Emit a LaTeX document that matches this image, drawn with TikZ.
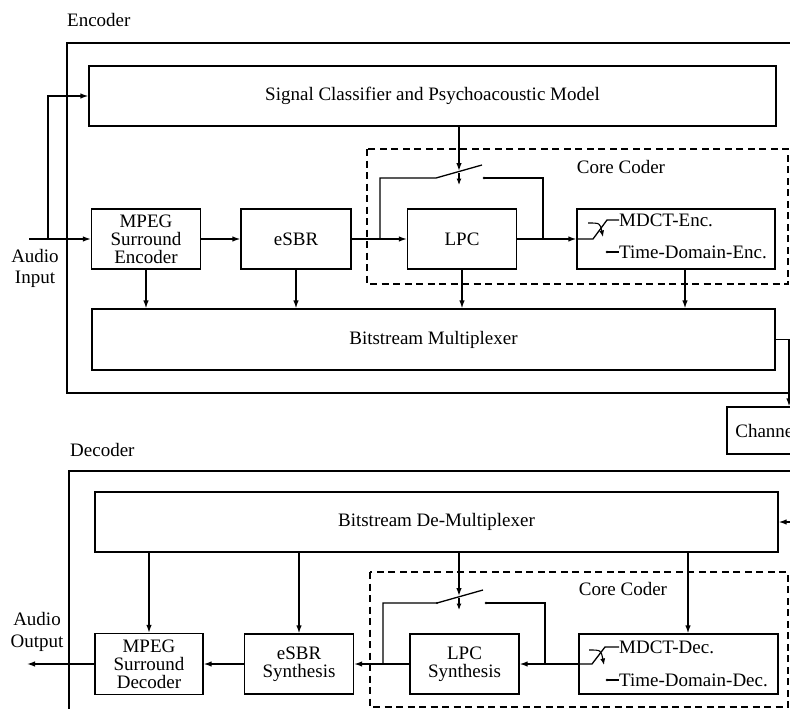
\documentclass[tikz,border=0pt]{standalone}
\usepackage{fontspec}
\setmainfont{Liberation Serif}
\usetikzlibrary{arrows.meta}

\begin{document}
\begin{tikzpicture}[x=1pt,y=-1pt,
    every node/.style={font=\fontsize{19}{18}\selectfont},
    blk/.style={draw, line width=1.3pt, minimum height=60pt, align=center, inner sep=2pt},
    frame/.style={draw, line width=1.3pt},
    core/.style={draw, line width=1.1pt, dash pattern=on 7pt off 4.5pt},
    wire/.style={line width=1.3pt},
    flow/.style={line width=1.3pt, -{Latex[length=8pt,width=5.5pt]}},
    tick/.style={line width=1.1pt, -{Latex[length=6.5pt,width=5pt]}},
    lbl/.style={anchor=west, inner sep=0pt}
  ]
  \useasboundingbox (0,0) rectangle (790,709);
  \clip (0,0) rectangle (790,709);

  % encoder
  \node[lbl] (enclbl) at (67,20) {Encoder};
  \draw[frame] (67,43) rectangle (900,393);
  \draw[core] (367,149) rectangle (788,284);
  \node (core1) at (621,167) {Core Coder};

  \node[blk, minimum width=687pt] (scm) at (432.5,96) {Signal Classifier and Psychoacoustic Model};
  \node[blk, minimum width=109pt] (mpse) at (146,239) {MPEG\\Surround\\Encoder};
  \node[blk, minimum width=110pt] (esbr) at (296,239) {eSBR};
  \node[blk, minimum width=109pt] (lpc) at (462,239) {LPC};
  \node[blk, minimum width=198pt] (mdct) at (676,239) {};
  \node[blk, minimum width=683pt, minimum height=61pt] (mux) at (433.5,339.5) {Bitstream Multiplexer};
  \node[blk, minimum width=80pt, minimum height=47pt] (chan) at (767,430.5) {Channel};

  \node[align=center] (ainl) at (35,268) {Audio\\[3pt]Input};
  \coordinate (asrc) at (29,239);
  \coordinate (abr) at (48,239);
  \draw[flow] (asrc) -- (mpse);
  \draw[flow] (abr) |- (scm);
  \draw[flow] (mpse) -- (esbr);
  \draw[flow] (esbr) -- (lpc);
  \draw[flow] (lpc) -- (mdct);

  \coordinate (s1in) at (380,239);
  \coordinate (s1piv) at (436,178);
  \coordinate (s1tip) at (482,165);
  \coordinate (s1con) at (484,178);
  \coordinate (s1out) at (543,239);
  \draw[wire] (s1in) |- (s1piv) -- (s1tip);
  \draw[wire] (s1con) -| (s1out);
  \fill (s1con) circle (1.4pt);
  \coordinate (s1ctl) at (459,171);
  \coordinate (s1a) at (459,173);
  \coordinate (s1b) at (459,185);
  \draw[flow] (scm.south -| s1ctl) -- (s1ctl);
  \draw[tick] (s1a) -- (s1b);

  \coordinate (m1a) at (593,239);
  \coordinate (m1b) at (607,220);
  \coordinate (t1) at (607,252);
  \node[lbl] (mdcte) at (619,220) {MDCT-Enc.};
  \node[lbl] (tde) at (619,252) {Time-Domain-Enc.};
  \draw[wire] (mdct.west) -- (m1a) -- (m1b) -- (mdcte.west);
  \draw[wire] (t1) -- (tde.west);
  \fill (t1) circle (1.4pt);
  \draw[tick] (588,223) .. controls (600,223) .. (603,237);

  \coordinate (mdctdn) at ([xshift=9pt]mdct.south);
  \coordinate (chanin) at ([xshift=22pt]chan.north);
  \draw[flow] (mpse) -- (mpse |- mux.north);
  \draw[flow] (esbr) -- (esbr |- mux.north);
  \draw[flow] (lpc) -- (lpc |- mux.north);
  \draw[flow] (mdctdn) -- (mdctdn |- mux.north);
  \draw[flow] (mux.east) -| (chanin);

  % decoder
  \node[lbl] (declbl) at (70,450) {Decoder};
  \draw[frame] (69,471) rectangle (900,800);
  \draw[core] (370,572) rectangle (788,707);
  \node (core2) at (623,589) {Core Coder};

  \node[blk, minimum width=683pt] (demux) at (436.5,522) {Bitstream De-Multiplexer};
  \node[blk, minimum width=108pt, minimum height=61pt] (mpsd) at (149,664) {MPEG\\Surround\\Decoder};
  \node[blk, minimum width=109pt] (esbrs) at (299,664) {eSBR\\Synthesis};
  \node[blk, minimum width=109pt] (lpcs) at (464.5,664) {LPC\\Synthesis};
  \node[blk, minimum width=199pt] (mdctd) at (678.5,664) {};

  \coordinate (dmin) at (800,522);
  \coordinate (mdctup) at ([xshift=9.5pt]mdctd.north);
  \draw[flow] (dmin) -- (demux);
  \draw[flow] (demux.south -| mpsd) -- (mpsd);
  \draw[flow] (demux.south -| esbrs) -- (esbrs);
  \draw[flow] (mdctup |- demux.south) -- (mdctup);

  \coordinate (d1a) at (592,664);
  \coordinate (d1b) at (605,647);
  \coordinate (t2) at (607,680);
  \node[lbl] (mdctdl) at (619,647) {MDCT-Dec.};
  \node[lbl] (tdd) at (619,680) {Time-Domain-Dec.};
  \draw[wire] (mdctdl.west) -- (d1b) -- (d1a) -- (mdctd.west);
  \draw[wire] (t2) -- (tdd.west);
  \fill (t2) circle (1.4pt);
  \draw[tick] (589,650) .. controls (601,650) .. (604,665);

  \draw[flow] (mdctd) -- (lpcs);
  \draw[flow] (lpcs) -- (esbrs);
  \draw[flow] (esbrs) -- (mpsd);
  \coordinate (aout) at (27,664);
  \draw[flow] (mpsd) -- (aout);
  \node[align=center] (aoutl) at (37,632) {Audio\\[4pt]Output};

  \coordinate (s2in) at (383,664);
  \coordinate (s2piv) at (437,603);
  \coordinate (s2tip) at (483,590);
  \coordinate (s2con) at (486,603);
  \coordinate (s2out) at (545,664);
  \draw[wire] (s2in) |- (s2piv) -- (s2tip);
  \draw[wire] (s2con) -| (s2out);
  \fill (s2piv) circle (1.2pt);
  \fill (s2con) circle (1.4pt);
  \coordinate (s2ctl) at (459,596);
  \coordinate (s2a) at (459,598);
  \coordinate (s2b) at (459,610);
  \draw[flow] (demux.south -| s2ctl) -- (s2ctl);
  \draw[tick] (s2a) -- (s2b);
\end{tikzpicture}
\end{document}
